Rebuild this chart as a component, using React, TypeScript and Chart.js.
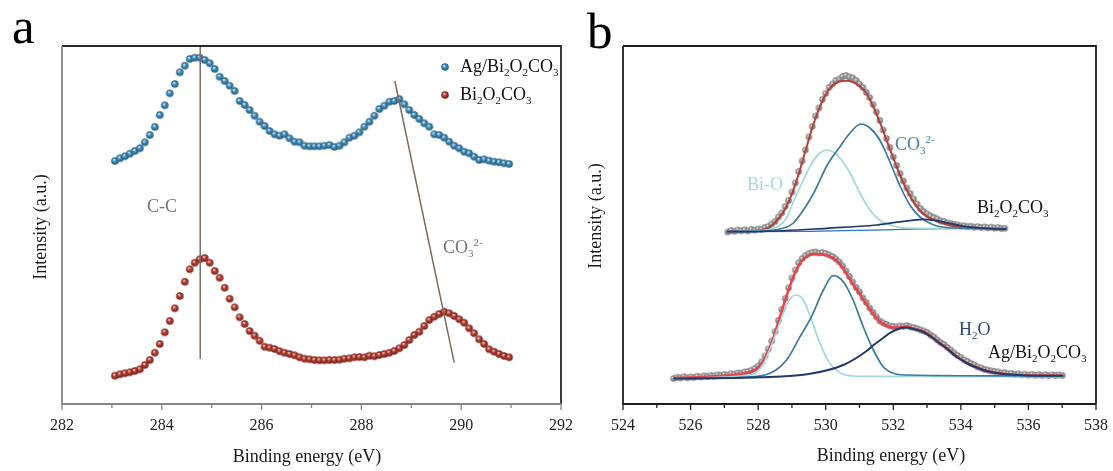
import React, { useEffect, useRef } from 'react';
import { Chart, registerables } from 'chart.js';

Chart.register(...registerables);

const SERIF = '"Liberation Serif", "Times New Roman", Times, serif';

// ---------------- Panel a : C 1s ----------------
const aEnergy = [
  283.06, 283.16, 283.26, 283.36, 283.46, 283.56, 283.66, 283.76, 283.86, 283.96,
  284.06, 284.16, 284.26, 284.36, 284.46, 284.56, 284.66, 284.76, 284.86, 284.96,
  285.06, 285.16, 285.26, 285.36, 285.46, 285.56, 285.66, 285.76, 285.86, 285.96,
  286.06, 286.16, 286.26, 286.36, 286.46, 286.56, 286.66, 286.76, 286.86, 286.96,
  287.06, 287.16, 287.26, 287.36, 287.46, 287.56, 287.66, 287.76, 287.86, 287.96,
  288.06, 288.16, 288.26, 288.36, 288.46, 288.56, 288.66, 288.76, 288.86, 288.96,
  289.06, 289.16, 289.26, 289.36, 289.46, 289.56, 289.66, 289.76, 289.86, 289.96,
  290.06, 290.16, 290.26, 290.36, 290.46, 290.56, 290.66, 290.76, 290.86, 290.96,
];
const agC1s = [
  243, 245.7, 247.7, 250.3, 253, 255.7, 261.7, 269, 277, 289,
  298.7, 310.7, 320, 331.7, 338.3, 345, 346.3, 346.3, 344, 340.7,
  335, 327.3, 323, 318.3, 313, 303, 299, 294, 288.3, 282.3,
  278, 273, 269.7, 268.3, 269.7, 265.7, 262.3, 261.7, 258.3, 257.7,
  257.7, 257.7, 258.3, 259, 257, 258.3, 261.7, 266.3, 268.3, 271.7,
  277.3, 282.3, 288.3, 295, 298.3, 302.3, 303, 305, 299.7, 294,
  289, 285, 280.7, 277.3, 269.7, 269, 266.3, 262.3, 258.3, 255.7,
  252.3, 250.7, 247.3, 244, 244.7, 243.3, 242.3, 241.7, 240.7, 240,
];
const bocC1s = [
  28.3, 29.7, 30.7, 31.7, 33, 34.7, 39, 44, 51.3, 60,
  71.7, 83, 95.7, 108, 122.3, 134.7, 141.3, 144.7, 146, 141.3,
  133, 126.3, 116.3, 105.3, 96.7, 86.7, 80, 73, 68.3, 63.3,
  57.3, 56.3, 55, 52.8, 51.3, 50, 48.7, 46.7, 45.3, 44.7,
  44, 43.7, 43.7, 44, 44, 44.3, 45.3, 45.7, 46.7, 47,
  46.7, 48.3, 47.7, 49, 50, 51.3, 53, 55.7, 59, 64,
  69, 72.3, 78, 84, 87.3, 90, 92.3, 90.7, 88, 84.7,
  81.3, 75.7, 70.7, 64.7, 60, 54.7, 52.3, 50, 48, 46.7,
];
const ccGuideE = [284.77, 284.77];
const ccGuideI = [45, 357];
const co3GuideE = [288.67, 289.86];
const co3GuideI = [323, 41.3];
const aTickLabels = ['282', '284', '286', '288', '290', '292'];

// ---------------- Panel b : O 1s ----------------
// upper spectrum (Bi2O2CO3)
const bTopE = [
  527.1, 527.2, 527.3, 527.4, 527.5, 527.6, 527.7, 527.8, 527.9, 528.0,
  528.1, 528.2, 528.3, 528.4, 528.5, 528.6, 528.7, 528.8, 528.9, 529.0,
  529.1, 529.2, 529.3, 529.4, 529.5, 529.6, 529.7, 529.8, 529.9, 530.0,
  530.1, 530.2, 530.3, 530.4, 530.5, 530.6, 530.7, 530.8, 530.9, 531.0,
  531.1, 531.2, 531.3, 531.4, 531.5, 531.6, 531.7, 531.8, 531.9, 532.0,
  532.1, 532.2, 532.3, 532.4, 532.5, 532.6, 532.7, 532.8, 532.9, 533.0,
  533.1, 533.2, 533.3, 533.4, 533.5, 533.6, 533.7, 533.8, 533.9, 534.0,
  534.1, 534.2, 534.3, 534.4, 534.5, 534.6, 534.7, 534.8, 534.9, 535.0,
  535.1, 535.2, 535.3,
];
const bTopData = [
  172.0, 173.5, 172.8, 174.0, 173.2, 174.2, 173.0, 174.5, 173.8, 175.0,
  174.6, 176.5, 177.5, 180.0, 182.5, 187.0, 191.0, 197.5, 203.5, 212.0,
  221.0, 232.5, 243.0, 254.0, 267.0, 277.5, 288.0, 296.0, 304.5, 310.5,
  316.5, 320.0, 323.5, 325.0, 327.5, 328.5, 327.0, 326.0, 323.5, 320.0,
  316.5, 311.5, 306.5, 299.5, 292.0, 283.5, 274.0, 265.5, 256.5, 247.0,
  238.5, 230.5, 223.0, 216.0, 210.5, 205.0, 200.0, 195.5, 192.5, 190.0,
  188.0, 186.5, 185.0, 183.0, 182.5, 181.0, 180.5, 179.5, 179.0, 178.0,
  178.2, 177.2, 177.8, 176.8, 177.4, 176.5, 177.0, 176.2, 176.8, 175.9,
  176.4, 175.5, 175.8,
];
const bTopFitE = [527.07, 527.5, 528.0, 528.2, 528.4, 528.6, 528.8, 529.0, 529.2, 529.4, 529.6, 529.8, 530.0, 530.2, 530.4, 530.6, 530.8, 531.0, 531.2, 531.4, 531.6, 531.8, 532.0, 532.2, 532.4, 532.6, 532.8, 533.0, 533.3, 533.6, 534.0, 534.5, 535.35];
const bTopFitI = [172.3, 172.8, 173.5, 174.8, 178.5, 185.5, 195, 210, 230, 253, 276, 295, 309.5, 318.5, 322.5, 323.3, 322, 318, 311, 298, 282, 264, 246, 229, 214, 202, 193, 187.3, 182.8, 179.8, 177.3, 176.1, 175];
const bTopBiOE = [527.07, 528.05, 528.55, 528.84, 529.04, 529.34, 529.63, 529.83, 530.03, 530.22, 530.42, 530.72, 531.01, 531.31, 531.6, 532.0, 532.49, 533.5, 535.35];
const bTopBiOI = [172.3, 173.3, 177, 186, 202, 224, 243, 251, 254, 252, 246, 231, 211, 194, 184, 178, 175.8, 175.5, 175.5];
const bTopCO3E = [527.07, 528.35, 528.84, 529.04, 529.34, 529.63, 529.83, 530.03, 530.42, 530.72, 531.04, 531.31, 531.6, 531.8, 532.0, 532.2, 532.49, 532.79, 533.2, 533.78, 535.35];
const bTopCO3I = [172.3, 173.5, 177, 181, 194, 210, 224, 238, 257.3, 271, 280, 276, 264, 250, 234, 218, 199, 187, 179, 176, 175.5];
const bTopBocE = [527.07, 528.05, 530.03, 531.5, 532.0, 532.49, 532.89, 533.28, 533.68, 534.17, 534.96, 535.35];
const bTopBocI = [172.3, 172.5, 175.7, 179, 181.3, 183.3, 184.7, 183.3, 180.7, 177.3, 175.2, 174.8];
const bTopBgE = [527.07, 529.5, 531.0, 532.5, 533.5, 535.35];
const bTopBgI = [172.3, 172.7, 173.6, 174.8, 175.4, 175.6];

// lower spectrum (Ag/Bi2O2CO3)
const bBotE = [
  525.5, 525.6, 525.7, 525.8, 525.9, 526.0, 526.1, 526.2, 526.3, 526.4,
  526.5, 526.6, 526.7, 526.8, 526.9, 527.0, 527.1, 527.2, 527.3, 527.4,
  527.5, 527.6, 527.7, 527.8, 527.9, 528.0, 528.1, 528.2, 528.3, 528.4,
  528.5, 528.6, 528.7, 528.8, 528.9, 529.0, 529.1, 529.2, 529.3, 529.4,
  529.5, 529.6, 529.7, 529.8, 529.9, 530.0, 530.1, 530.2, 530.3, 530.4,
  530.5, 530.6, 530.7, 530.8, 530.9, 531.0, 531.1, 531.2, 531.3, 531.4,
  531.5, 531.6, 531.7, 531.8, 531.9, 532.0, 532.1, 532.2, 532.3, 532.4,
  532.5, 532.6, 532.7, 532.8, 532.9, 533.0, 533.1, 533.2, 533.3, 533.4,
  533.5, 533.6, 533.7, 533.8, 533.9, 534.0, 534.1, 534.2, 534.3, 534.4,
  534.5, 534.6, 534.7, 534.8, 534.9, 535.0, 535.1, 535.2, 535.3, 535.4,
  535.5, 535.6, 535.7, 535.8, 535.9, 536.0, 536.1, 536.2, 536.3, 536.4,
  536.5, 536.6, 536.7, 536.8, 536.9, 537.0,
];
const bBotData = [
  25.5, 26.8, 26.0, 27.2, 26.3, 27.0, 26.5, 27.8, 27.0, 28.2,
  27.5, 28.6, 28.0, 29.2, 28.5, 29.5, 29.0, 30.2, 29.8, 31.0,
  30.8, 32.0, 32.5, 33.8, 35.5, 38.0, 42.0, 48.0, 55.0, 63.0,
  72.5, 83.5, 94.5, 105.5, 116.0, 126.0, 134.0, 141.0, 145.5, 148.5,
  150.5, 151.5, 152.0, 151.0, 151.5, 150.5, 149.0, 147.5, 145.0, 142.0,
  138.0, 133.0, 127.5, 122.0, 116.5, 112.0, 106.0, 101.5, 96.0, 91.5,
  87.0, 83.0, 81.0, 79.5, 78.0, 77.5, 77.0, 78.0, 77.5, 78.5,
  77.0, 76.5, 75.5, 74.0, 73.0, 71.5, 69.0, 67.0, 64.0, 61.5,
  59.5, 56.5, 54.0, 51.0, 48.5, 46.5, 44.0, 42.5, 40.5, 39.0,
  37.0, 36.0, 34.5, 34.0, 33.0, 32.5, 32.0, 31.0, 31.2, 30.3,
  30.6, 29.6, 30.2, 29.2, 29.8, 28.9, 29.6, 28.7, 29.4, 28.6,
  29.3, 28.4, 29.2, 28.5, 29.0, 28.6,
];
const bBotFitE = [525.49, 526.0, 526.57, 527.0, 527.56, 527.8, 527.96, 528.1, 528.26, 528.45, 528.65, 528.85, 529.04, 529.24, 529.44, 529.63, 529.93, 530.22, 530.42, 530.62, 530.82, 531.01, 531.2, 531.41, 531.6, 531.8, 532.0, 532.19, 532.39, 532.6, 532.89, 533.19, 533.38, 533.58, 533.88, 534.17, 534.37, 534.66, 534.86, 535.35, 535.95, 536.5, 537.0];
const bBotFitI = [26, 26.5, 27.5, 28.2, 30.5, 32.5, 35.5, 40.5, 50, 66, 88, 109, 127, 140.5, 147.5, 150, 149.5, 146, 140, 130, 119, 110, 100, 90, 82.5, 78.5, 76.5, 76.5, 77.5, 75.5, 72.5, 66, 61, 56, 47.5, 41.5, 38.2, 34, 32.5, 29.8, 28.7, 28.4, 28.2];
const bBotBiOE = [525.49, 527.0, 527.56, 527.96, 528.15, 528.35, 528.65, 528.89, 529.12, 529.34, 529.58, 529.83, 530.12, 530.42, 530.81, 531.5, 537.03];
const bBotBiOI = [25.7, 26.8, 28.3, 32, 40, 55, 82, 102.3, 109, 104, 84, 60.7, 40.7, 31.3, 28, 27.6, 27.3];
const bBotCO3E = [525.49, 527.56, 528.35, 528.84, 529.24, 529.58, 529.93, 530.22, 530.52, 530.81, 531.11, 531.41, 531.7, 532.0, 532.39, 537.03];
const bBotCO3I = [25.5, 26.7, 30.7, 44, 67.3, 87.3, 114, 128.3, 122.3, 104, 77.3, 54, 37.3, 30.7, 29, 28];
const bBotH2OE = [525.49, 528.05, 529.5, 530.52, 531.21, 531.4, 531.7, 531.9, 532.1, 532.34, 532.6, 532.89, 533.19, 533.38, 533.58, 533.88, 534.17, 534.37, 534.86, 535.35, 535.95, 537.03];
const bBotH2OI = [25.5, 26.7, 30, 39, 53, 58.5, 66, 71, 74.5, 76.5, 75, 72, 65.5, 60.5, 55.5, 47.2, 41, 37.8, 32.2, 29.7, 28.6, 28.2];
const bTickLabels = ['524', '526', '528', '530', '532', '534', '536', '538'];

// ---------------- Text ----------------
type Part = [string, number]; // 0 normal, 1 subscript, 2 superscript
const TXT_AG: Part[] = [['Ag/Bi', 0], ['2', 1], ['O', 0], ['2', 1], ['CO', 0], ['3', 1]];
const TXT_BOC: Part[] = [['Bi', 0], ['2', 1], ['O', 0], ['2', 1], ['CO', 0], ['3', 1]];
const TXT_CO3: Part[] = [['CO', 0], ['3', 1], ['2-', 2]];
const TXT_H2O: Part[] = [['H', 0], ['2', 1], ['O', 0]];
const TXT_CC: Part[] = [['C-C', 0]];
const TXT_BIO: Part[] = [['Bi-O', 0]];
const X_TITLE = 'Binding energy (eV)';
const Y_TITLE = 'Intensity (a.u.)';

function zip(xs: number[], ys: number[]) {
  return xs.map((x, i) => ({ x, y: ys[i] }));
}

function drawRich(ctx: CanvasRenderingContext2D, parts: Part[], x: number, y: number, size: number, color: string) {
  ctx.save();
  ctx.fillStyle = color;
  ctx.textAlign = 'left';
  ctx.textBaseline = 'alphabetic';
  let cx = x;
  for (const [t, k] of parts) {
    const fs = k === 0 ? size : Math.round(size * 0.6);
    ctx.font = `${fs}px ${SERIF}`;
    const dy = k === 1 ? size * 0.24 : k === 2 ? -size * 0.4 : 0;
    ctx.fillText(t, cx, y + dy);
    cx += ctx.measureText(t).width;
  }
  ctx.restore();
}

function drawYTitle(ctx: CanvasRenderingContext2D, x: number, y: number) {
  ctx.save();
  ctx.translate(x, y);
  ctx.rotate(-Math.PI / 2);
  ctx.font = `18px ${SERIF}`;
  ctx.fillStyle = '#1a1a1a';
  ctx.textAlign = 'center';
  ctx.textBaseline = 'alphabetic';
  ctx.fillText(Y_TITLE, 0, 0);
  ctx.restore();
}

function drawXTitle(ctx: CanvasRenderingContext2D, x: number, y: number) {
  ctx.save();
  ctx.font = `18px ${SERIF}`;
  ctx.fillStyle = '#1a1a1a';
  ctx.textAlign = 'center';
  ctx.textBaseline = 'alphabetic';
  ctx.fillText(X_TITLE, x, y);
  ctx.restore();
}

function drawLetter(ctx: CanvasRenderingContext2D, t: string, x: number, y: number) {
  ctx.save();
  ctx.font = `51px ${SERIF}`;
  ctx.fillStyle = '#000';
  ctx.textAlign = 'left';
  ctx.textBaseline = 'alphabetic';
  ctx.fillText(t, x, y);
  ctx.restore();
}

function makeSphere(r: number, light: string, base: string, dark: string) {
  const s = Math.ceil(r * 2) + 2;
  const c = document.createElement('canvas');
  c.width = s;
  c.height = s;
  const g = c.getContext('2d')!;
  const cx = s / 2;
  const cy = s / 2;
  const grad = g.createRadialGradient(cx - r * 0.25, cy - r * 0.35, r * 0.05, cx, cy, r);
  grad.addColorStop(0, light);
  grad.addColorStop(0.45, base);
  grad.addColorStop(1, dark);
  g.fillStyle = grad;
  g.beginPath();
  g.arc(cx, cy, r, 0, Math.PI * 2);
  g.fill();
  return c;
}

function drawFrameAndTicks(chart: any, labels: string[], leftBottomColor: string, topRightColor: string) {
  const { ctx, chartArea } = chart;
  const { left, right, top, bottom } = chartArea;
  const xs = chart.scales.x;
  ctx.save();
  ctx.lineWidth = 1.8;
  ctx.strokeStyle = topRightColor;
  ctx.beginPath();
  ctx.moveTo(left, top);
  ctx.lineTo(right, top);
  ctx.lineTo(right, bottom);
  ctx.stroke();
  ctx.strokeStyle = leftBottomColor;
  ctx.beginPath();
  ctx.moveTo(left, top);
  ctx.lineTo(left, bottom);
  ctx.lineTo(right, bottom);
  ctx.stroke();
  ctx.lineWidth = 1.3;
  for (const t of xs.ticks) {
    const px = xs.getPixelForValue(t.value);
    const major = labels.includes(String(t.value));
    ctx.beginPath();
    ctx.moveTo(px, bottom);
    ctx.lineTo(px, bottom + (major ? 6 : 4));
    ctx.stroke();
  }
  ctx.restore();
}

export default function App() {
  const refA = useRef<HTMLCanvasElement | null>(null);
  const refB = useRef<HTMLCanvasElement | null>(null);

  useEffect(() => {
    if (!refA.current || !refB.current) return;
    const blueBead = makeSphere(3.8, '#e6f1f7', '#3d86ae', '#245f84');
    const redBead = makeSphere(3.8, '#f3d6d2', '#ad3a30', '#7a241d');
    const grayBead = makeSphere(3.2, '#e2e2e2', '#a2a2a2', '#737373');

    const xTicks = (labels: string[]) => ({
      stepSize: 1,
      autoSkip: false,
      maxRotation: 0,
      minRotation: 0,
      padding: 4,
      color: '#222',
      font: { family: SERIF, size: 16 },
      callback: (v: any) => (labels.includes(String(v)) ? String(v) : ''),
    });

    const pluginA = {
      id: 'decorA',
      afterDraw(chart: any) {
        const ctx = chart.ctx as CanvasRenderingContext2D;
        drawFrameAndTicks(chart, aTickLabels, '#858585', '#2a2a2a');
        drawLetter(ctx, 'a', 12, 43);
        drawYTitle(ctx, 46, 227);
        drawXTitle(ctx, 307, 462);
        drawRich(ctx, TXT_CC, 147, 212, 18, '#747474');
        drawRich(ctx, TXT_CO3, 443, 253, 18, '#747474');
        ctx.drawImage(blueBead, 445 - blueBead.width / 2, 67 - blueBead.height / 2);
        ctx.drawImage(redBead, 445 - redBead.width / 2, 95 - redBead.height / 2);
        drawRich(ctx, TXT_AG, 460, 72, 18, '#111');
        drawRich(ctx, TXT_BOC, 460, 100, 18, '#111');
      },
    };

    const pluginB = {
      id: 'decorB',
      afterDraw(chart: any) {
        const ctx = chart.ctx as CanvasRenderingContext2D;
        drawFrameAndTicks(chart, bTickLabels, '#1e1e1e', '#1e1e1e');
        drawLetter(ctx, 'b', 7, 48);
        drawYTitle(ctx, 21, 216);
        drawXTitle(ctx, 311, 461);
        drawRich(ctx, TXT_BIO, 167, 190, 18, '#a6d8d9');
        drawRich(ctx, TXT_CO3, 315, 150, 18, '#4b7ea8');
        drawRich(ctx, TXT_BOC, 397, 213, 18, '#111');
        drawRich(ctx, TXT_H2O, 379, 335, 18, '#2c4a7c');
        drawRich(ctx, TXT_AG, 408, 358, 18, '#111');
      },
    };

    const guide = (data: any) => ({
      data,
      showLine: true,
      borderColor: '#7b6c63',
      borderWidth: 1.5,
      pointRadius: 0,
      order: 0,
    });
    const curve = (data: any, color: string, width: number, order: number) => ({
      data,
      showLine: true,
      borderColor: color,
      borderWidth: width,
      pointRadius: 0,
      cubicInterpolationMode: 'monotone',
      order,
    });
    const beads = (data: any, sprite: HTMLCanvasElement, r: number, order: number) => ({
      data,
      showLine: false,
      pointStyle: sprite,
      pointRadius: r,
      order,
    });

    const common = (labels: string[], min: number, max: number, padLeft: number, padRight: number) => ({
      animation: false,
      responsive: false,
      maintainAspectRatio: false,
      devicePixelRatio: 1,
      events: [],
      layout: { padding: { left: padLeft, top: 46, right: padRight, bottom: 0 } },
      plugins: { legend: { display: false }, tooltip: { enabled: false } },
      scales: {
        x: {
          type: 'linear',
          min,
          max,
          grid: { display: false },
          border: { display: false },
          ticks: xTicks(labels),
          afterFit: (s: any) => {
            s.height = 67;
            s.paddingLeft = 0;
            s.paddingRight = 0;
          },
        },
        y: { type: 'linear', display: false, min: 0, max: 358 },
      },
    });

    const chartA = new Chart(refA.current, {
      type: 'scatter',
      data: {
        datasets: [
          guide(zip(ccGuideE, ccGuideI)),
          guide(zip(co3GuideE, co3GuideI)),
          beads(zip(aEnergy, agC1s), blueBead, 3.8, 2),
          beads(zip(aEnergy, bocC1s), redBead, 3.8, 2),
        ] as any,
      },
      options: common(aTickLabels, 282, 292, 62, 19) as any,
      plugins: [pluginA],
    });

    const chartB = new Chart(refB.current, {
      type: 'scatter',
      data: {
        datasets: [
          beads(zip(bTopE, bTopData), grayBead, 3.2, 10),
          beads(zip(bBotE, bBotData), grayBead, 3.2, 10),
          curve(zip(bTopFitE, bTopFitI), '#b5403a', 2, 6),
          curve(zip(bBotFitE, bBotFitI), '#e8424b', 2.5, 6),
          curve(zip(bTopBgE, bTopBgI), '#2f6fcf', 1.2, 4),
          curve(zip(bTopBiOE, bTopBiOI), '#a3d8d8', 1.7, 3),
          curve(zip(bTopCO3E, bTopCO3I), '#3d78a3', 1.7, 2),
          curve(zip(bTopBocE, bTopBocI), '#1f3a68', 1.7, 1),
          curve(zip(bBotBiOE, bBotBiOI), '#a3d8d8', 1.7, 3),
          curve(zip(bBotCO3E, bBotCO3I), '#3d78a3', 1.7, 2),
          curve(zip(bBotH2OE, bBotH2OI), '#1f3a68', 2, 1),
        ] as any,
      },
      options: common(bTickLabels, 524, 538, 43, 17) as any,
      plugins: [pluginB],
    });

    return () => {
      chartA.destroy();
      chartB.destroy();
    };
  }, []);

  return (
    <div
      style={{
        position: 'fixed',
        left: 0,
        top: 0,
        width: 1113,
        height: 471,
        background: '#fff',
        overflow: 'hidden',
      }}
    >
      <canvas
        ref={refA}
        width={580}
        height={471}
        style={{ position: 'absolute', left: 0, top: 0, width: 580, height: 471 }}
      />
      <canvas
        ref={refB}
        width={533}
        height={471}
        style={{ position: 'absolute', left: 580, top: 0, width: 533, height: 471 }}
      />
    </div>
  );
}
